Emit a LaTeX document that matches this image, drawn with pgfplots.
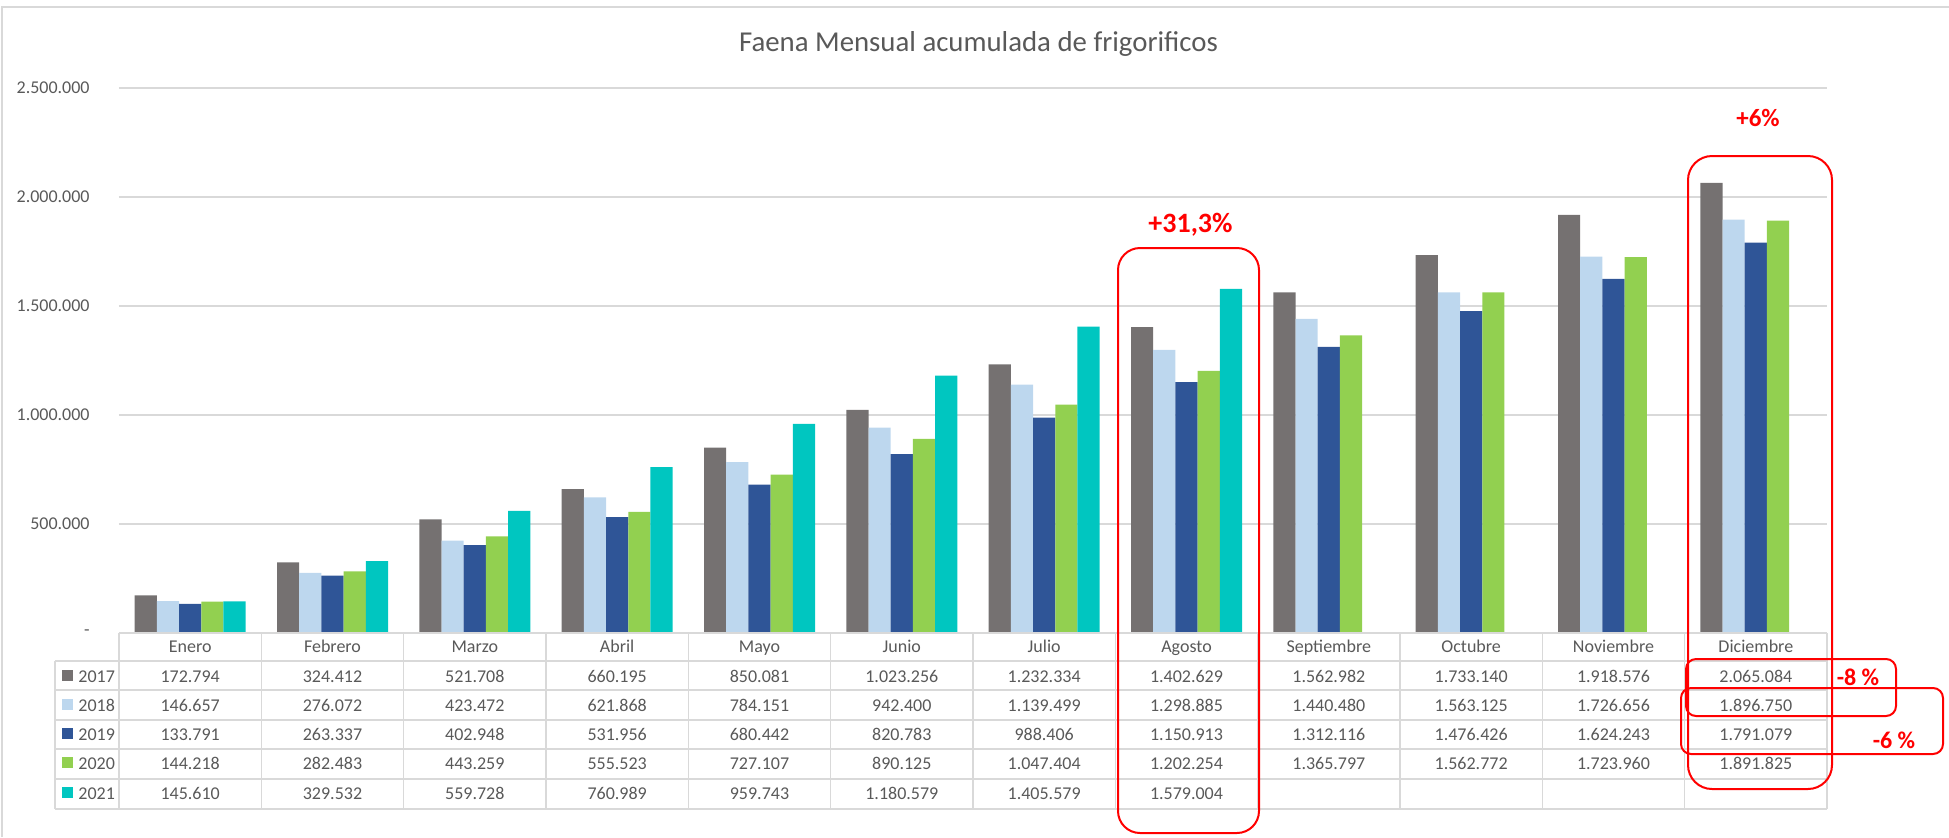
\documentclass[border=0pt]{standalone}
\usepackage{fontspec}
\setmainfont{Carlito}
\usepackage{pgfplots}
\pgfplotsset{compat=1.18}
\usepackage{pgfplotstable}
\definecolor{c17}{RGB}{117,113,113}
\definecolor{c18}{RGB}{189,215,238}
\definecolor{c19}{RGB}{47,85,151}
\definecolor{c20}{RGB}{146,208,80}
\definecolor{c21}{RGB}{0,198,192}
\definecolor{txt}{RGB}{89,89,89}
\definecolor{grd}{RGB}{217,217,217}
\definecolor{rd}{RGB}{255,0,0}

\pgfplotstableread{
x y2017 y2018 y2019 y2020 y2021
0 172794 146657 133791 144218 145610
1 324412 276072 263337 282483 329532
2 521708 423472 402948 443259 559728
3 660195 621868 531956 555523 760989
4 850081 784151 680442 727107 959743
5 1023256 942400 820783 890125 1180579
6 1232334 1139499 988406 1047404 1405579
7 1402629 1298885 1150913 1202254 1579004
8 1562982 1440480 1312116 1365797 nan
9 1733140 1563125 1476426 1562772 nan
10 1918576 1726656 1624243 1723960 nan
11 2065084 1896750 1791079 1891825 nan
}\faena

\begin{document}
\begin{tikzpicture}
\path[use as bounding box] (0,0) rectangle (974.5pt,-418.5pt);
\begin{axis}[
  at={(59.5pt,-316.5pt)}, anchor=south west,
  scale only axis, width=854pt, height=272.5pt,
  xmin=-0.5, xmax=11.5, ymin=0, ymax=2500000,
  ybar, bar width=11.1pt,
  xtick=\empty,
  ytick={0,500000,1000000,1500000,2000000,2500000},
  yticklabels={{-\hspace{4pt}},500.000,1.000.000,1.500.000,2.000.000,2.500.000},
  yticklabel style={font=\fontsize{9}{10}\selectfont, text=txt, anchor=east, inner sep=0pt, xshift=-14.5pt},
  ymajorgrids, grid style={draw=grd, line width=0.9pt},
  axis line style={draw=none},
  major tick length=0pt,
  scaled y ticks=false,
]
\addplot[fill=c17, draw=none, bar shift=-22.2pt] table[x=x, y=y2017] {\faena};
\addplot[fill=c18, draw=none, bar shift=-11.1pt] table[x=x, y=y2018] {\faena};
\addplot[fill=c19, draw=none, bar shift=0pt] table[x=x, y=y2019] {\faena};
\addplot[fill=c20, draw=none, bar shift=11.1pt] table[x=x, y=y2020] {\faena};
\addplot[fill=c21, draw=none, bar shift=22.2pt] table[x=x, y=y2021] {\faena};
\end{axis}
\begin{scope}[x=0.5pt, y=-0.5pt, every node/.style={font=\fontsize{9}{11}\selectfont, text=txt, inner sep=0pt}]
  % outer frame
  \draw[grd, line width=1pt] (2,837) -- (2,7) -- (1949,7);
  % title
  \node[anchor=base, font=\fontsize{14.4}{16}\selectfont] at (978.5,51.5) {Faena Mensual acumulada de frigorificos};
  % table grid
  \draw[grd, line width=0.8pt] (119,633) -- (1827,633);
  \foreach \yy in {661,690,720,749,779,809} {\draw[grd, line width=0.8pt] (55,\yy) -- (1827,\yy);}
  \foreach \c in {0,...,12} {\draw[grd, line width=0.8pt] (119+\c*142.333,633) -- (119+\c*142.333,809);}
  \draw[grd, line width=0.8pt] (55,661) -- (55,809);
  % header
  \foreach \n [count=\i from 0] in {Enero,Febrero,Marzo,Abril,Mayo,Junio,Julio,Agosto,Septiembre,Octubre,Noviembre,Diciembre}
    {\node[anchor=base] at (190.17+\i*142.333,652) {\n};}
  % legend column
  \foreach \yr/\cl/\b in {2017/c17/682,2018/c18/711,2019/c19/740,2020/c20/769,2021/c21/799} {
    \fill[\cl] (62,\b-12) rectangle (73,\b-1);
    \node[anchor=base west] at (78,\b) {\yr};
  }
  % values
  \foreach \v [count=\i from 0] in {172.794,324.412,521.708,660.195,850.081,1.023.256,1.232.334,1.402.629,1.562.982,1.733.140,1.918.576,2.065.084}
    {\node[anchor=base] at (190.17+\i*142.333,682) {\v};}
  \foreach \v [count=\i from 0] in {146.657,276.072,423.472,621.868,784.151,942.400,1.139.499,1.298.885,1.440.480,1.563.125,1.726.656,1.896.750}
    {\node[anchor=base] at (190.17+\i*142.333,711) {\v};}
  \foreach \v [count=\i from 0] in {133.791,263.337,402.948,531.956,680.442,820.783,988.406,1.150.913,1.312.116,1.476.426,1.624.243,1.791.079}
    {\node[anchor=base] at (190.17+\i*142.333,740) {\v};}
  \foreach \v [count=\i from 0] in {144.218,282.483,443.259,555.523,727.107,890.125,1.047.404,1.202.254,1.365.797,1.562.772,1.723.960,1.891.825}
    {\node[anchor=base] at (190.17+\i*142.333,769) {\v};}
  \foreach \v [count=\i from 0] in {145.610,329.532,559.728,760.989,959.743,1.180.579,1.405.579,1.579.004}
    {\node[anchor=base] at (190.17+\i*142.333,799) {\v};}
  % red annotations
  \draw[rd, line width=1pt, rounded corners=11pt] (1118,248) rectangle (1259,833);
  \draw[rd, line width=1pt, rounded corners=12pt] (1688,156) rectangle (1832,789);
  \draw[rd, line width=1pt, rounded corners=5pt] (1686,659) rectangle (1896,716);
  \draw[rd, line width=1pt, rounded corners=5pt] (1681,688) rectangle (1943,754);
  \node[anchor=base, text=rd, font=\fontsize{14}{16}\selectfont\bfseries] at (1190.5,232) {+31,3\%};
  \node[anchor=base, text=rd, font=\fontsize{12.5}{14}\selectfont\bfseries] at (1758,126) {+6\%};
  \node[anchor=base, text=rd, font=\fontsize{12}{14}\selectfont\bfseries] at (1858,685) {-8 \%};
  \node[anchor=base, text=rd, font=\fontsize{12}{14}\selectfont\bfseries] at (1894,748) {-6 \%};
\end{scope}
\end{tikzpicture}
\end{document}
